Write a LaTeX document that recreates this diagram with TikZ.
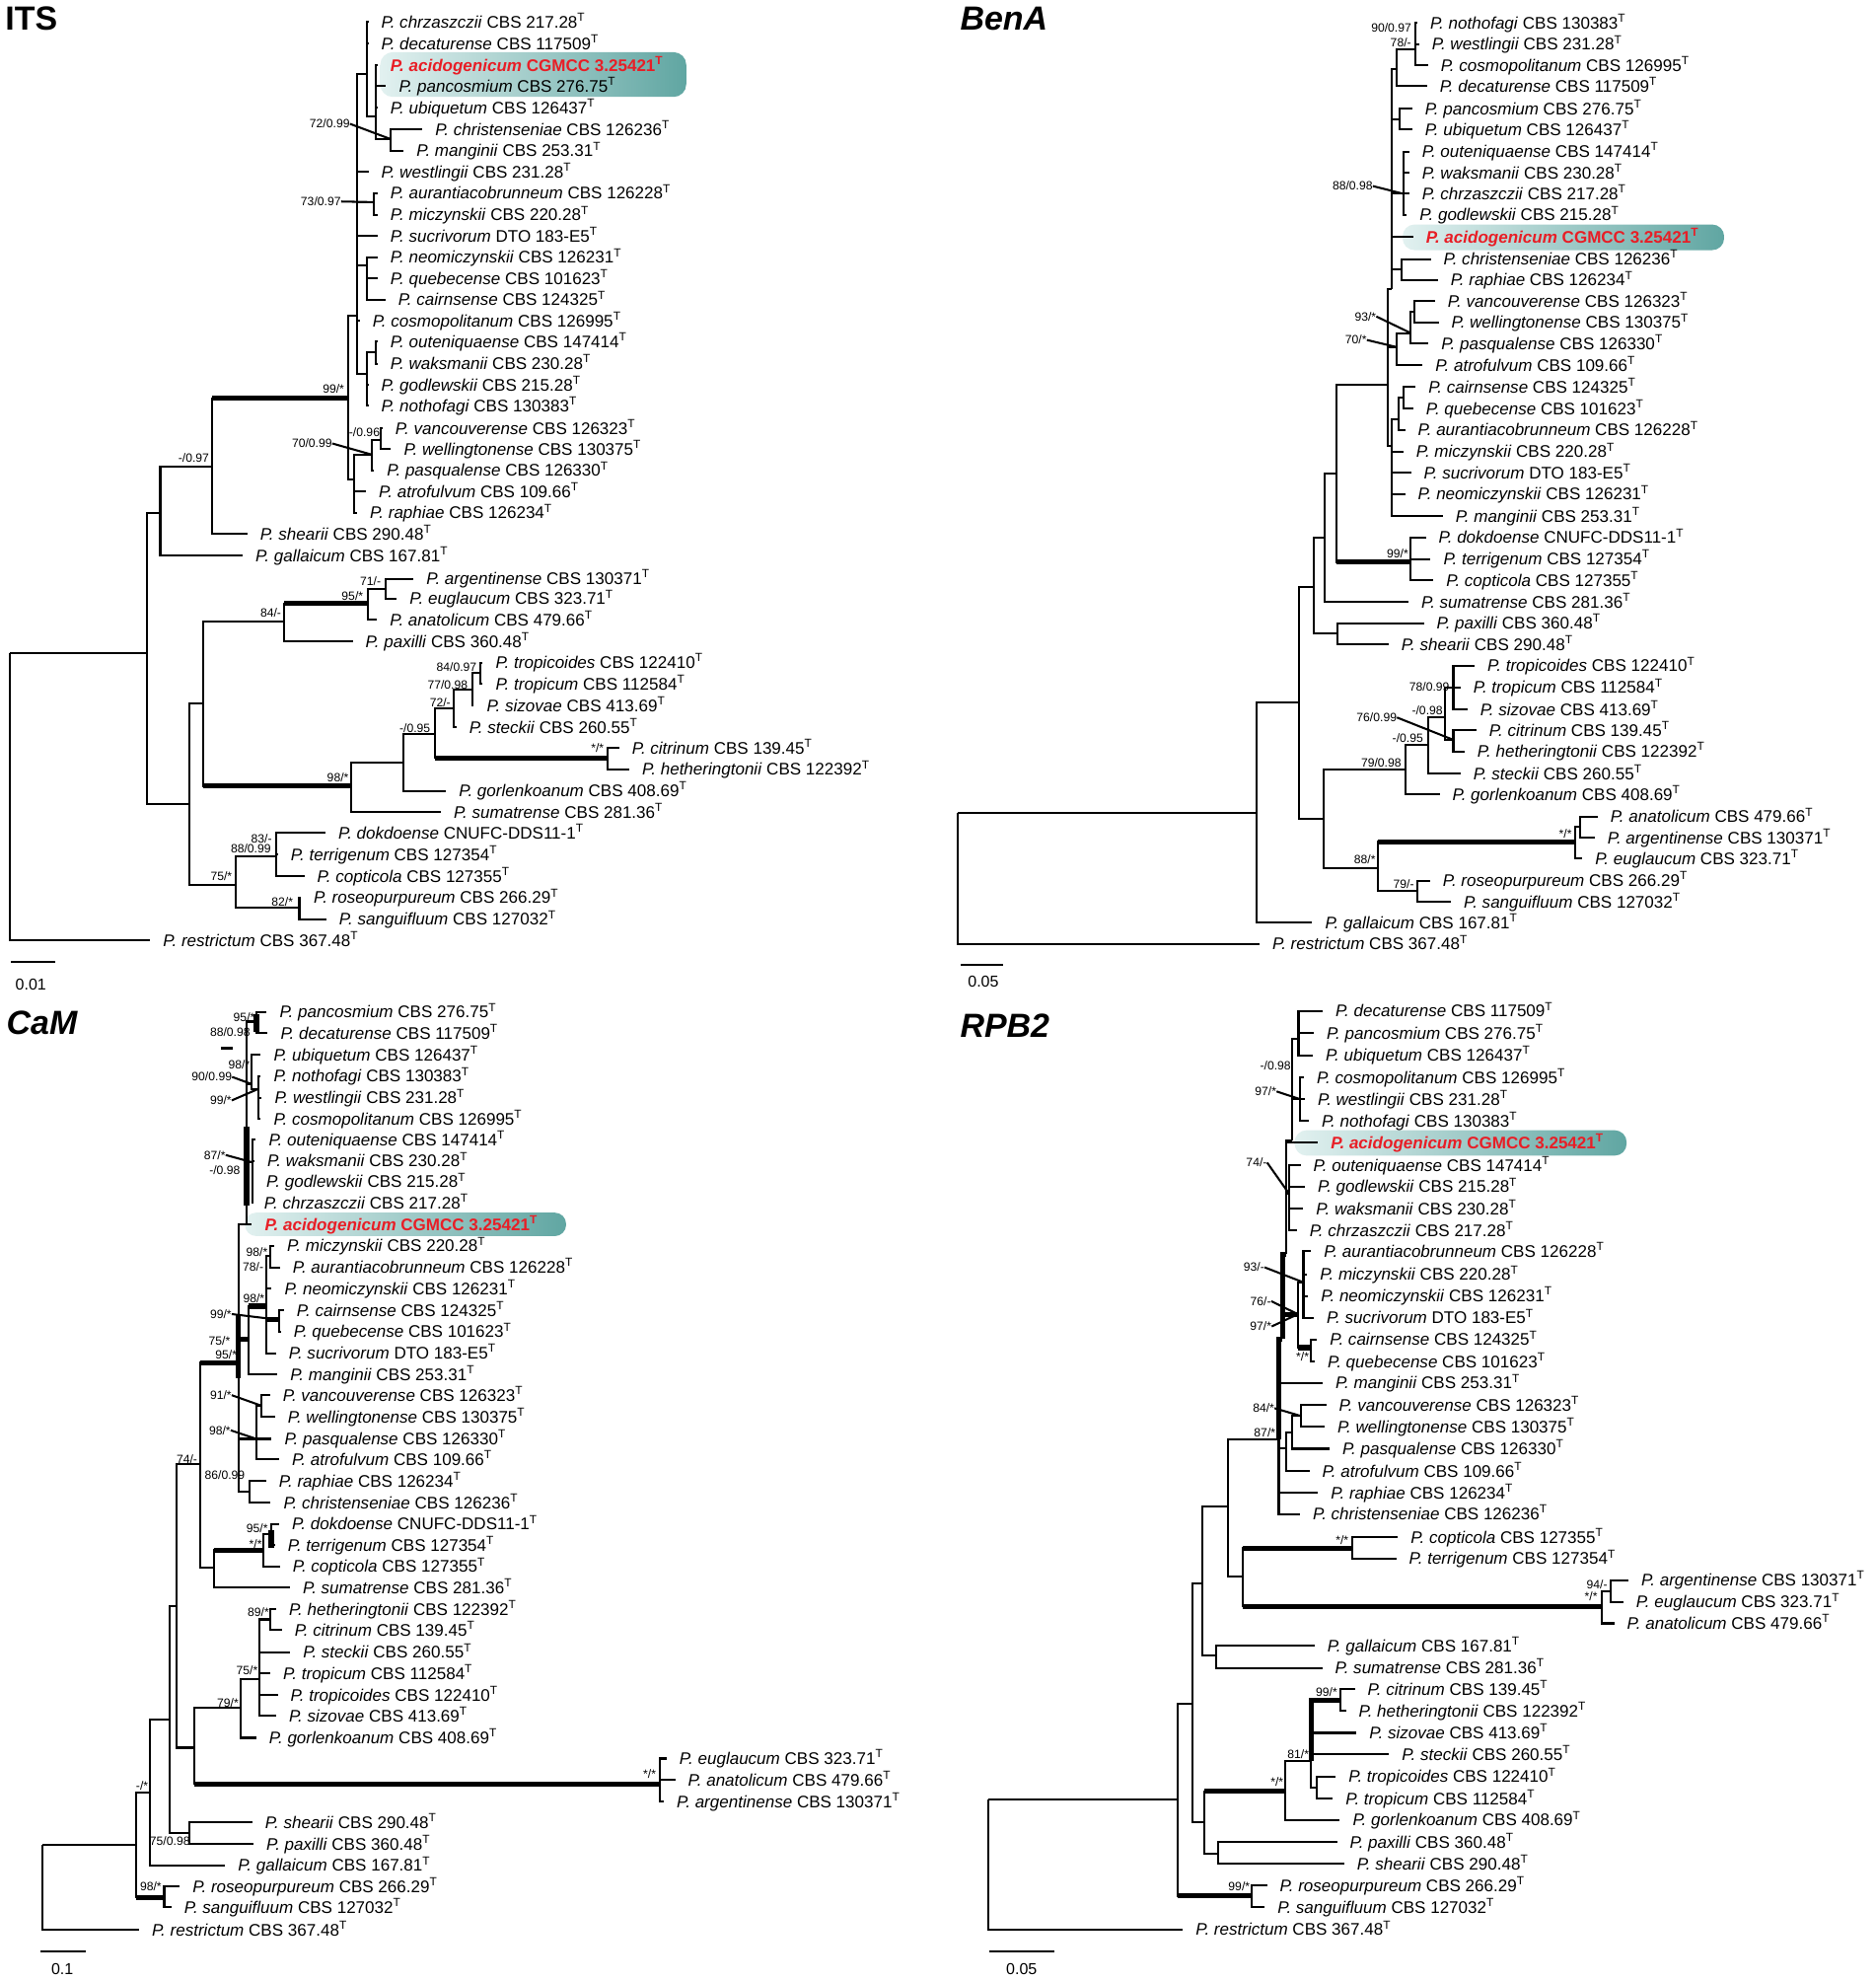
\documentclass[tikz,border=0pt]{standalone}
\usepackage{fontspec}
\setmainfont{Liberation Sans}
\usepackage{tikz}

\definecolor{newred}{RGB}{232,30,38}
\definecolor{hlleft}{RGB}{226,241,240}
\definecolor{hlright}{RGB}{96,166,162}
\newcommand{\typ}{\textsuperscript{T}}

\begin{document}
\begin{tikzpicture}[x=1pt, y=-1pt,
    taxon/.style={anchor=west, inner sep=0, text height=9.5pt, text depth=0pt, font=\fontsize{13.3}{14}\selectfont},
    new_taxon/.style={taxon, text=newred, font=\fontsize{13.3}{14}\selectfont\bfseries},
    support/.style={inner sep=0, font=\fontsize{9.5}{10}\selectfont},
    branch/.style={line width=1.6pt},
    heavy/.style={line width=4pt},
    to_inner/.style={to path={(\tikztostart) |- (\tikztotarget)}},
    to_tip/.style={to path={(\tikztostart) |- ([xshift=-10pt]\tikztotarget.west)}},
    tree_title/.style={anchor=west, inner sep=0, font=\fontsize{26.5}{28}\selectfont\bfseries\itshape},
    scale_lab/.style={inner sep=0, font=\fontsize{12.5}{13}\selectfont}]
    \fill[white] (0,0) rectangle (1485,1568);
    \useasboundingbox (0,0) rectangle (1485,1568);

    % highlight boxes for the new species
    \shade[left color=hlleft, right color=hlright, rounded corners=10] (301,41.3) rectangle (543.3,76.7);
    \shade[left color=hlleft, right color=hlright, rounded corners=9.5] (1110.4,177.7) rectangle (1365,198);
    \shade[left color=hlleft, right color=hlright, rounded corners=9] (193.9,959.8) rectangle (448.2,978.4);
    \shade[left color=hlleft, right color=hlright, rounded corners=9.5] (1024.9,894.6) rectangle (1287.8,914.7);

    % ITS
    \node[tree_title, font=\fontsize{26.5}{28}\selectfont\bfseries] (i_title) at (4,15) {ITS};
    \node[taxon] (i_chrz) at (301.7,17.5) {\textit{P. chrzaszczii} CBS 217.28\typ};
    \node[taxon] (i_deca) at (301.7,34.5) {\textit{P. decaturense} CBS 117509\typ};
    \node[new_taxon] (i_acid) at (309,51.6) {\textit{P. acidogenicum} CGMCC 3.25421\typ};
    \node[taxon] (i_panc) at (315.7,68.3) {\textit{P. pancosmium} CBS 276.75\typ};
    \node[taxon] (i_ubiq) at (309,85.1) {\textit{P. ubiquetum} CBS 126437\typ};
    \node[taxon] (i_chri) at (344.4,102.6) {\textit{P. christenseniae} CBS 126236\typ};
    \node[taxon] (i_mang) at (329.6,119.4) {\textit{P. manginii} CBS 253.31\typ};
    \node[taxon] (i_west) at (301.7,136.1) {\textit{P. westlingii} CBS 231.28\typ};
    \node[taxon] (i_aura) at (309,152.8) {\textit{P. aurantiacobrunneum} CBS 126228\typ};
    \node[taxon] (i_micz) at (309,170.1) {\textit{P. miczynskii} CBS 220.28\typ};
    \node[taxon] (i_sucr) at (309,186.9) {\textit{P. sucrivorum} DTO 183-E5\typ};
    \node[taxon] (i_neom) at (309,203.6) {\textit{P. neomiczynskii} CBS 126231\typ};
    \node[taxon] (i_queb) at (309,220.3) {\textit{P. quebecense} CBS 101623\typ};
    \node[taxon] (i_cair) at (315.1,237.1) {\textit{P. cairnsense} CBS 124325\typ};
    \node[taxon] (i_cosm) at (294.8,253.8) {\textit{P. cosmopolitanum} CBS 126995\typ};
    \node[taxon] (i_oute) at (309,270.5) {\textit{P. outeniquaense} CBS 147414\typ};
    \node[taxon] (i_waks) at (309,287.8) {\textit{P. waksmanii} CBS 230.28\typ};
    \node[taxon] (i_godl) at (301.7,304.6) {\textit{P. godlewskii} CBS 215.28\typ};
    \node[taxon] (i_noth) at (301.7,321.3) {\textit{P. nothofagi} CBS 130383\typ};
    \node[taxon] (i_vanc) at (312.9,338.9) {\textit{P. vancouverense} CBS 126323\typ};
    \node[taxon] (i_well) at (319.6,355.6) {\textit{P. wellingtonense} CBS 130375\typ};
    \node[taxon] (i_pasq) at (306.2,372.3) {\textit{P. pasqualense} CBS 126330\typ};
    \node[taxon] (i_atro) at (299.8,389.1) {\textit{P. atrofulvum} CBS 109.66\typ};
    \node[taxon] (i_raph) at (292.8,405.8) {\textit{P. raphiae} CBS 126234\typ};
    \node[taxon] (i_shea) at (205.8,422.5) {\textit{P. shearii} CBS 290.48\typ};
    \node[taxon] (i_gall) at (202.2,439.8) {\textit{P. gallaicum} CBS 167.81\typ};
    \node[taxon] (i_arge) at (337.4,458) {\textit{P. argentinense} CBS 130371\typ};
    \node[taxon] (i_eugl) at (324.2,473.7) {\textit{P. euglaucum} CBS 323.71\typ};
    \node[taxon] (i_anat) at (308.5,490.6) {\textit{P. anatolicum} CBS 479.66\typ};
    \node[taxon] (i_paxi) at (289.3,507.5) {\textit{P. paxilli} CBS 360.48\typ};
    \node[taxon] (i_tpcd) at (392.2,524.4) {\textit{P. tropicoides} CBS 122410\typ};
    \node[taxon] (i_trop) at (392.2,541.3) {\textit{P. tropicum} CBS 112584\typ};
    \node[taxon] (i_sizo) at (385.2,558.3) {\textit{P. sizovae} CBS 413.69\typ};
    \node[taxon] (i_stec) at (371.3,575.7) {\textit{P. steckii} CBS 260.55\typ};
    \node[taxon] (i_citr) at (500.2,592.1) {\textit{P. citrinum} CBS 139.45\typ};
    \node[taxon] (i_heth) at (508.3,609) {\textit{P. hetheringtonii} CBS 122392\typ};
    \node[taxon] (i_gorl) at (363.2,625.9) {\textit{P. gorlenkoanum} CBS 408.69\typ};
    \node[taxon] (i_suma) at (359,642.9) {\textit{P. sumatrense} CBS 281.36\typ};
    \node[taxon] (i_dokd) at (267.7,659) {\textit{P. dokdoense} CNUFC-DDS11-1\typ};
    \node[taxon] (i_terr) at (230.1,676.2) {\textit{P. terrigenum} CBS 127354\typ};
    \node[taxon] (i_copt) at (251,693.6) {\textit{P. copticola} CBS 127355\typ};
    \node[taxon] (i_rose) at (248.2,710.5) {\textit{P. roseopurpureum} CBS 266.29\typ};
    \node[taxon] (i_sang) at (268.4,727.5) {\textit{P. sanguifluum} CBS 127032\typ};
    \node[taxon] (i_rest) at (129,744.4) {\textit{P. restrictum} CBS 367.48\typ};

    \coordinate (i_root) at (7.7,516.6);
    \coordinate (i_a) at (116.1,516.6);
    \coordinate (i_b) at (126.9,405.8);
    \coordinate (i_c) at (149.9,636.4);
    \coordinate (i_d) at (168.1,369.5);
    \coordinate (i_e) at (275.5,315.2);
    \coordinate (i_f) at (283,249.6);
    \coordinate (i_g) at (280.3,379.3);
    \coordinate (i_h) at (290.6,58.6);
    \coordinate (i_i) at (297.8,92);
    \coordinate (i_j) at (309.5,110.2);
    \coordinate (i_k) at (295.6,160);
    \coordinate (i_m) at (290.6,210);
    \coordinate (i_p) at (290.6,295.6);
    \coordinate (i_q) at (297.8,279);
    \coordinate (i_r) at (294.2,359.8);
    \coordinate (i_s) at (301.2,348);
    \coordinate (i_t) at (161,557);
    \coordinate (i_u) at (186.5,700.1);
    \coordinate (i_v) at (224.8,491.9);
    \coordinate (i_w) at (277.8,622);
    \coordinate (i_x) at (291.1,477.6);
    \coordinate (i_y) at (305,465.9);
    \coordinate (i_z) at (319.7,603.8);
    \coordinate (i_aa) at (344.4,580.9);
    \coordinate (i_ab) at (359.1,560.9);
    \coordinate (i_ac) at (373.7,546);
    \coordinate (i_ad) at (380,532.2);
    \coordinate (i_ae) at (481.1,599.9);
    \coordinate (i_af) at (218.9,678);
    \coordinate (i_ag) at (237,718.3);

    \draw[branch] (i_root) edge[to_inner] (i_a) edge[to_tip] (i_rest);
    \draw[branch] (i_a) edge[to_inner] (i_b) edge[to_inner] (i_c);
    \draw[branch] (i_b) edge[to_inner] (i_d) edge[to_tip] (i_gall);
    \draw[branch] (i_d) edge[to_inner] (i_e) edge[to_tip] (i_shea);
    \draw[branch] (i_e) edge[to_inner] (i_f) edge[to_inner] (i_g);
    \draw[branch] (i_f) edge[to_inner] (i_h) edge[to_tip] (i_west) edge[to_inner] (i_k) edge[to_tip] (i_sucr)
        edge[to_inner] (i_m) edge[to_tip] (i_cosm) edge[to_inner] (i_p);
    \draw[branch] (i_h) edge[to_tip] (i_chrz) edge[to_tip] (i_deca) edge[to_inner] (i_i);
    \draw[branch] (i_i) edge[to_tip] (i_acid) edge[to_tip] (i_panc) edge[to_tip] (i_ubiq) edge[to_inner] (i_j);
    \draw[branch] (i_j) edge[to_tip] (i_chri) edge[to_tip] (i_mang);
    \draw[branch] (i_k) edge[to_tip] (i_aura) edge[to_tip] (i_micz);
    \draw[branch] (i_m) edge[to_tip] (i_neom) edge[to_tip] (i_queb) edge[to_tip] (i_cair);
    \draw[branch] (i_p) edge[to_inner] (i_q) edge[to_tip] (i_godl) edge[to_tip] (i_noth);
    \draw[branch] (i_q) edge[to_tip] (i_oute) edge[to_tip] (i_waks);
    \draw[branch] (i_g) edge[to_inner] (i_r) edge[to_tip] (i_atro) edge[to_tip] (i_raph);
    \draw[branch] (i_r) edge[to_inner] (i_s) edge[to_tip] (i_pasq);
    \draw[branch] (i_s) edge[to_tip] (i_vanc) edge[to_tip] (i_well);
    \draw[branch] (i_c) edge[to_inner] (i_t) edge[to_inner] (i_u);
    \draw[branch] (i_t) edge[to_inner] (i_v) edge[to_inner] (i_w);
    \draw[branch] (i_v) edge[to_inner] (i_x) edge[to_tip] (i_paxi);
    \draw[branch] (i_x) edge[to_inner] (i_y) edge[to_tip] (i_anat);
    \draw[branch] (i_y) edge[to_tip] (i_arge) edge[to_tip] (i_eugl);
    \draw[branch] (i_w) edge[to_inner] (i_z) edge[to_tip] (i_suma);
    \draw[branch] (i_z) edge[to_inner] (i_aa) edge[to_tip] (i_gorl);
    \draw[branch] (i_aa) edge[to_inner] (i_ab) edge[to_inner] (i_ae);
    \draw[branch] (i_ab) edge[to_inner] (i_ac) edge[to_tip] (i_stec);
    \draw[branch] (i_ac) edge[to_inner] (i_ad) edge[to_tip] (i_sizo);
    \draw[branch] (i_ad) edge[to_tip] (i_tpcd) edge[to_tip] (i_trop);
    \draw[branch] (i_ae) edge[to_tip] (i_citr) edge[to_tip] (i_heth);
    \draw[branch] (i_u) edge[to_inner] (i_af) edge[to_inner] (i_ag);
    \draw[branch] (i_af) edge[to_tip] (i_dokd) edge[to_tip] (i_terr) edge[to_tip] (i_copt);
    \draw[branch] (i_ag) edge[to_tip] (i_rose) edge[to_tip] (i_sang);
    \draw[heavy] (i_d |- i_e) -- (i_e);
    \draw[heavy] (i_v |- i_x) -- (i_x);
    \draw[heavy] (i_t |- i_w) -- (i_w);
    \draw[heavy] (i_aa |- i_ae) -- (i_ae);

    \node[support] (i_l1) at (261,98) {72/0.99};
    \node[support] (i_l2) at (254,159.5) {73/0.97};
    \node[support] (i_l3) at (264,308) {99/*};
    \node[support] (i_l4) at (288.5,342.5) {-/0.96};
    \node[support] (i_l5) at (247,351) {70/0.99};
    \node[support] (i_l6) at (153.4,362.6) {-/0.97};
    \node[support] (i_l7) at (293.3,460.1) {71/-};
    \node[support] (i_l8) at (279,471.5) {95/*};
    \node[support] (i_l9) at (214.4,485.4) {84/-};
    \node[support] (i_l10) at (361.5,528.3) {84/0.97};
    \node[support] (i_l11) at (354.4,541.9) {77/0.98};
    \node[support] (i_l12) at (348.5,556.2) {72/-};
    \node[support] (i_l13) at (328.5,576.5) {-/0.95};
    \node[support] (i_l14) at (473,592.1) {*/*};
    \node[support] (i_l15) at (267.5,615.5) {98/*};
    \node[support] (i_l16) at (207,664.2) {83/-};
    \node[support] (i_l17) at (198.6,672) {88/0.99};
    \node[support] (i_l18) at (175.2,693.6) {75/*};
    \node[support] (i_l19) at (223.5,713.7) {82/*};
    \draw[branch] (i_l1.east) -- (i_j);
    \draw[branch] (i_l2.east) -- (i_k);
    \draw[branch] (i_l5.east) -- (i_r);

    \draw[branch] (8.7,761.3) -- (43.6,761.3);
    \node[scale_lab] (i_scale) at (24.4,779.5) {0.01};

    % BenA
    \node[tree_title] (b_title) at (760,15) {BenA};
    \node[taxon] (b_noth) at (1132.1,18.1) {\textit{P. nothofagi} CBS 130383\typ};
    \node[taxon] (b_west) at (1133.5,34.9) {\textit{P. westlingii} CBS 231.28\typ};
    \node[taxon] (b_cosm) at (1140.5,51.6) {\textit{P. cosmopolitanum} CBS 126995\typ};
    \node[taxon] (b_deca) at (1139.7,68.3) {\textit{P. decaturense} CBS 117509\typ};
    \node[taxon] (b_panc) at (1128,85.9) {\textit{P. pancosmium} CBS 276.75\typ};
    \node[taxon] (b_ubiq) at (1128,102.6) {\textit{P. ubiquetum} CBS 126437\typ};
    \node[taxon] (b_oute) at (1125.7,119.9) {\textit{P. outeniquaense} CBS 147414\typ};
    \node[taxon] (b_waks) at (1125.7,136.7) {\textit{P. waksmanii} CBS 230.28\typ};
    \node[taxon] (b_chrz) at (1125.7,153.4) {\textit{P. chrzaszczii} CBS 217.28\typ};
    \node[taxon] (b_godl) at (1123.8,170.1) {\textit{P. godlewskii} CBS 215.28\typ};
    \node[new_taxon] (b_acid) at (1128.8,187.4) {\textit{P. acidogenicum} CGMCC 3.25421\typ};
    \node[taxon] (b_chri) at (1142.7,205) {\textit{P. christenseniae} CBS 126236\typ};
    \node[taxon] (b_raph) at (1148.3,221.7) {\textit{P. raphiae} CBS 126234\typ};
    \node[taxon] (b_vanc) at (1146.1,238.5) {\textit{P. vancouverense} CBS 126323\typ};
    \node[taxon] (b_well) at (1148.9,255.2) {\textit{P. wellingtonense} CBS 130375\typ};
    \node[taxon] (b_pasq) at (1141,271.9) {\textit{P. pasqualense} CBS 126330\typ};
    \node[taxon] (b_atro) at (1136.3,289.2) {\textit{P. atrofulvum} CBS 109.66\typ};
    \node[taxon] (b_cair) at (1130.7,306.2) {\textit{P. cairnsense} CBS 124325\typ};
    \node[taxon] (b_queb) at (1128.8,323.5) {\textit{P. quebecense} CBS 101623\typ};
    \node[taxon] (b_aura) at (1122.4,340.3) {\textit{P. aurantiacobrunneum} CBS 126228\typ};
    \node[taxon] (b_micz) at (1121,357.5) {\textit{P. miczynskii} CBS 220.28\typ};
    \node[taxon] (b_sucr) at (1127.1,374.3) {\textit{P. sucrivorum} DTO 183-E5\typ};
    \node[taxon] (b_neom) at (1122.4,391) {\textit{P. neomiczynskii} CBS 126231\typ};
    \node[taxon] (b_mang) at (1152.2,408.6) {\textit{P. manginii} CBS 253.31\typ};
    \node[taxon] (b_dokd) at (1138.8,425.4) {\textit{P. dokdoense} CNUFC-DDS11-1\typ};
    \node[taxon] (b_terr) at (1142.6,442.4) {\textit{P. terrigenum} CBS 127354\typ};
    \node[taxon] (b_copt) at (1144.8,459.4) {\textit{P. copticola} CBS 127355\typ};
    \node[taxon] (b_suma) at (1125.1,476.3) {\textit{P. sumatrense} CBS 281.36\typ};
    \node[taxon] (b_paxi) at (1137.2,493.2) {\textit{P. paxilli} CBS 360.48\typ};
    \node[taxon] (b_shea) at (1109.4,510.1) {\textit{P. shearii} CBS 290.48\typ};
    \node[taxon] (b_tpcd) at (1177.5,527) {\textit{P. tropicoides} CBS 122410\typ};
    \node[taxon] (b_trop) at (1166.3,544) {\textit{P. tropicum} CBS 112584\typ};
    \node[taxon] (b_sizo) at (1171.7,561.4) {\textit{P. sizovae} CBS 413.69\typ};
    \node[taxon] (b_citr) at (1178.9,577.8) {\textit{P. citrinum} CBS 139.45\typ};
    \node[taxon] (b_heth) at (1169.5,594.7) {\textit{P. hetheringtonii} CBS 122392\typ};
    \node[taxon] (b_stec) at (1166.3,612.2) {\textit{P. steckii} CBS 260.55\typ};
    \node[taxon] (b_gorl) at (1149.7,628.6) {\textit{P. gorlenkoanum} CBS 408.69\typ};
    \node[taxon] (b_anat) at (1274.8,646.3) {\textit{P. anatolicum} CBS 479.66\typ};
    \node[taxon] (b_arge) at (1272.5,663.2) {\textit{P. argentinense} CBS 130371\typ};
    \node[taxon] (b_eugl) at (1262.7,679.3) {\textit{P. euglaucum} CBS 323.71\typ};
    \node[taxon] (b_rose) at (1142.1,697) {\textit{P. roseopurpureum} CBS 266.29\typ};
    \node[taxon] (b_sang) at (1158.7,713.7) {\textit{P. sanguifluum} CBS 127032\typ};
    \node[taxon] (b_gall) at (1048.9,730.1) {\textit{P. gallaicum} CBS 167.81\typ};
    \node[taxon] (b_rest) at (1007.2,747) {\textit{P. restrictum} CBS 367.48\typ};

    \coordinate (b_root) at (758.5,643.4);
    \coordinate (b_a) at (995.1,643.4);
    \coordinate (b_b) at (1028.3,555.7);
    \coordinate (b_c) at (1039.9,464.6);
    \coordinate (b_d) at (1047.6,648.1);
    \coordinate (b_e) at (1048.5,425.3);
    \coordinate (b_f) at (1058.8,501);
    \coordinate (b_g) at (1058.2,375.1);
    \coordinate (b_h) at (1098.7,304.6);
    \coordinate (b_i) at (1117,445);
    \coordinate (b_j) at (1102,228.7);
    \coordinate (b_k) at (1105.6,274.7);
    \coordinate (b_l) at (1102,352.7);
    \coordinate (b_m) at (1105.6,55);
    \coordinate (b_n) at (1108.4,94.3);
    \coordinate (b_o) at (1111.2,153.4);
    \coordinate (b_p) at (1109.3,213.4);
    \coordinate (b_q) at (1120.4,39);
    \coordinate (b_r) at (1116.8,263.6);
    \coordinate (b_s) at (1119.6,246.9);
    \coordinate (b_t) at (1111.2,315);
    \coordinate (b_v) at (1107,331.9);
    \coordinate (b_w) at (1112.5,609);
    \coordinate (b_x) at (1091,687.1);
    \coordinate (b_y) at (1130.5,589.5);
    \coordinate (b_z) at (1143.9,567.4);
    \coordinate (b_aa) at (1150.6,544);
    \coordinate (b_ab) at (1150.6,585.6);
    \coordinate (b_ac) at (1247,666.3);
    \coordinate (b_ad) at (1122.4,705.3);
    \coordinate (b_ae) at (1250.6,654);

    \draw[branch] (b_root) edge[to_inner] (b_a) edge[to_tip] (b_rest);
    \draw[branch] (b_a) edge[to_inner] (b_b) edge[to_tip] (b_gall);
    \draw[branch] (b_b) edge[to_inner] (b_c) edge[to_inner] (b_d);
    \draw[branch] (b_c) edge[to_inner] (b_e) edge[to_inner] (b_f);
    \draw[branch] (b_e) edge[to_inner] (b_g) edge[to_tip] (b_suma);
    \draw[branch] (b_g) edge[to_inner] (b_h) edge[to_inner] (b_i);
    \draw[branch] (b_i) edge[to_tip] (b_dokd) edge[to_tip] (b_terr) edge[to_tip] (b_copt);
    \draw[branch] (b_f) edge[to_tip] (b_paxi) edge[to_tip] (b_shea);
    \draw[branch] (b_h) edge[to_inner] (b_j) edge[to_inner] (b_k) edge[to_inner] (b_l);
    \draw[branch] (b_j) edge[to_inner] (b_m) edge[to_inner] (b_n) edge[to_inner] (b_o) edge[to_tip] (b_acid) edge[to_inner] (b_p);
    \draw[branch] (b_m) edge[to_inner] (b_q) edge[to_tip] (b_deca);
    \draw[branch] (b_q) edge[to_tip] (b_noth) edge[to_tip] (b_west) edge[to_tip] (b_cosm);
    \draw[branch] (b_n) edge[to_tip] (b_panc) edge[to_tip] (b_ubiq);
    \draw[branch] (b_o) edge[to_tip] (b_oute) edge[to_tip] (b_waks) edge[to_tip] (b_chrz) edge[to_tip] (b_godl);
    \draw[branch] (b_p) edge[to_tip] (b_chri) edge[to_tip] (b_raph);
    \draw[branch] (b_k) edge[to_inner] (b_r) edge[to_tip] (b_atro);
    \draw[branch] (b_r) edge[to_inner] (b_s) edge[to_tip] (b_pasq);
    \draw[branch] (b_s) edge[to_tip] (b_vanc) edge[to_tip] (b_well);
    \draw[branch] (b_l) edge[to_inner] (b_v) edge[to_tip] (b_micz) edge[to_tip] (b_sucr) edge[to_tip] (b_neom) edge[to_tip] (b_mang);
    \draw[branch] (b_v) edge[to_inner] (b_t) edge[to_tip] (b_aura);
    \draw[branch] (b_t) edge[to_tip] (b_cair) edge[to_tip] (b_queb);
    \draw[branch] (b_d) edge[to_inner] (b_w) edge[to_inner] (b_x);
    \draw[branch] (b_w) edge[to_inner] (b_y) edge[to_tip] (b_gorl);
    \draw[branch] (b_y) edge[to_inner] (b_z) edge[to_tip] (b_stec);
    \draw[branch] (b_z) edge[to_inner] (b_aa) edge[to_inner] (b_ab);
    \draw[branch] (b_aa) edge[to_tip] (b_tpcd) edge[to_tip] (b_trop) edge[to_tip] (b_sizo);
    \draw[branch] (b_ab) edge[to_tip] (b_citr) edge[to_tip] (b_heth);
    \draw[branch] (b_x) edge[to_inner] (b_ac) edge[to_inner] (b_ad);
    \draw[branch] (b_ac) edge[to_inner] (b_ae) edge[to_tip] (b_eugl);
    \draw[branch] (b_ae) edge[to_tip] (b_anat) edge[to_tip] (b_arge);
    \draw[branch] (b_ad) edge[to_tip] (b_rose) edge[to_tip] (b_sang);
    \draw[heavy] (b_g |- b_i) -- (b_i);
    \draw[heavy] (b_x |- b_ac) -- (b_ac);

    \node[support] (b_l1) at (1101.5,22.3) {90/0.97};
    \node[support] (b_l2) at (1109,34) {78/-};
    \node[support] (b_l3) at (1070.8,147.3) {88/0.98};
    \node[support] (b_l4) at (1081,250.5) {93/*};
    \node[support] (b_l5) at (1073.5,269.1) {70/*};
    \node[support] (b_l6) at (1106.5,438.5) {99/*};
    \node[support] (b_l7) at (1093.5,603.8) {79/0.98};
    \node[support] (b_l8) at (1114.5,584.3) {-/0.95};
    \node[support] (b_l9) at (1130,562.2) {-/0.98};
    \node[support] (b_l10) at (1131.6,543.4) {78/0.99};
    \node[support] (b_l11) at (1089.9,567.9) {76/0.99};
    \node[support] (b_l12) at (1080.5,680.6) {88/*};
    \node[support] (b_l13) at (1239.3,659.8) {*/*};
    \node[support] (b_l14) at (1111.3,700.1) {79/-};
    \draw[branch] (b_l3.east) -- (b_o);
    \draw[branch] (b_l4.east) -- (b_r);
    \draw[branch] (b_l5.east) -- (b_k);
    \draw[branch] (b_l11.east) -- (b_ab);

    \draw[branch] (760.7,763.9) -- (794.3,763.9);
    \node[scale_lab] (b_scale) at (778.5,777) {0.05};

    % CaM
    \node[tree_title] (c_title) at (5,810) {CaM};
    \node[taxon] (c_panc) at (221.2,800.9) {\textit{P. pancosmium} CBS 276.75\typ};
    \node[taxon] (c_deca) at (222,817.8) {\textit{P. decaturense} CBS 117509\typ};
    \node[taxon] (c_ubiq) at (216.5,834.8) {\textit{P. ubiquetum} CBS 126437\typ};
    \node[taxon] (c_noth) at (216.5,851.8) {\textit{P. nothofagi} CBS 130383\typ};
    \node[taxon] (c_west) at (217.3,868.8) {\textit{P. westlingii} CBS 231.28\typ};
    \node[taxon] (c_cosm) at (216.5,885.8) {\textit{P. cosmopolitanum} CBS 126995\typ};
    \node[taxon] (c_oute) at (212.6,902.1) {\textit{P. outeniquaense} CBS 147414\typ};
    \node[taxon] (c_waks) at (211.6,918.8) {\textit{P. waksmanii} CBS 230.28\typ};
    \node[taxon] (c_godl) at (210.8,935.2) {\textit{P. godlewskii} CBS 215.28\typ};
    \node[taxon] (c_chrz) at (209,952.1) {\textit{P. chrzaszczii} CBS 217.28\typ};
    \node[new_taxon] (c_acid) at (209.5,969.1) {\textit{P. acidogenicum} CGMCC 3.25421\typ};
    \node[taxon] (c_micz) at (227.2,986.1) {\textit{P. miczynskii} CBS 220.28\typ};
    \node[taxon] (c_aura) at (231.6,1003.1) {\textit{P. aurantiacobrunneum} CBS 126228\typ};
    \node[taxon] (c_neom) at (225.1,1020) {\textit{P. neomiczynskii} CBS 126231\typ};
    \node[taxon] (c_cair) at (234.8,1037) {\textit{P. cairnsense} CBS 124325\typ};
    \node[taxon] (c_queb) at (232.4,1054) {\textit{P. quebecense} CBS 101623\typ};
    \node[taxon] (c_sucr) at (228.5,1071) {\textit{P. sucrivorum} DTO 183-E5\typ};
    \node[taxon] (c_mang) at (229.6,1088) {\textit{P. manginii} CBS 253.31\typ};
    \node[taxon] (c_vanc) at (223.8,1104.3) {\textit{P. vancouverense} CBS 126323\typ};
    \node[taxon] (c_well) at (227.7,1121.3) {\textit{P. wellingtonense} CBS 130375\typ};
    \node[taxon] (c_pasq) at (225.1,1138.9) {\textit{P. pasqualense} CBS 126330\typ};
    \node[taxon] (c_atro) at (231.1,1155.2) {\textit{P. atrofulvum} CBS 109.66\typ};
    \node[taxon] (c_raph) at (220.7,1172.2) {\textit{P. raphiae} CBS 126234\typ};
    \node[taxon] (c_chri) at (224.3,1189.2) {\textit{P. christenseniae} CBS 126236\typ};
    \node[taxon] (c_dokd) at (231.1,1206.2) {\textit{P. dokdoense} CNUFC-DDS11-1\typ};
    \node[taxon] (c_terr) at (227.7,1222.9) {\textit{P. terrigenum} CBS 127354\typ};
    \node[taxon] (c_copt) at (231.6,1239.8) {\textit{P. copticola} CBS 127355\typ};
    \node[taxon] (c_suma) at (239.6,1256.6) {\textit{P. sumatrense} CBS 281.36\typ};
    \node[taxon] (c_heth) at (228.6,1273.9) {\textit{P. hetheringtonii} CBS 122392\typ};
    \node[taxon] (c_citr) at (233.1,1290.3) {\textit{P. citrinum} CBS 139.45\typ};
    \node[taxon] (c_stec) at (239.8,1307.8) {\textit{P. steckii} CBS 260.55\typ};
    \node[taxon] (c_trop) at (224.1,1324.7) {\textit{P. tropicum} CBS 112584\typ};
    \node[taxon] (c_tpcd) at (229.9,1341.6) {\textit{P. tropicoides} CBS 122410\typ};
    \node[taxon] (c_sizo) at (228.6,1358) {\textit{P. sizovae} CBS 413.69\typ};
    \node[taxon] (c_gorl) at (212.9,1375.5) {\textit{P. gorlenkoanum} CBS 408.69\typ};
    \node[taxon] (c_eugl) at (537.8,1391.9) {\textit{P. euglaucum} CBS 323.71\typ};
    \node[taxon] (c_anat) at (544.6,1408.8) {\textit{P. anatolicum} CBS 479.66\typ};
    \node[taxon] (c_arge) at (535.6,1426.2) {\textit{P. argentinense} CBS 130371\typ};
    \node[taxon] (c_shea) at (209.8,1442.6) {\textit{P. shearii} CBS 290.48\typ};
    \node[taxon] (c_paxi) at (210.7,1459.5) {\textit{P. paxilli} CBS 360.48\typ};
    \node[taxon] (c_gall) at (188.2,1476.5) {\textit{P. gallaicum} CBS 167.81\typ};
    \node[taxon] (c_rose) at (152.4,1493.1) {\textit{P. roseopurpureum} CBS 266.29\typ};
    \node[taxon] (c_sang) at (145.7,1509.5) {\textit{P. sanguifluum} CBS 127032\typ};
    \node[taxon] (c_rest) at (120.1,1527.7) {\textit{P. restrictum} CBS 367.48\typ};

    \coordinate (c_root) at (33.6,1460.1);
    \coordinate (c_a) at (107.6,1460.1);
    \coordinate (c_b) at (118.8,1418.9);
    \coordinate (c_c) at (130,1501.7);
    \coordinate (c_d) at (134.5,1361.2);
    \coordinate (c_e) at (139.8,1271.3);
    \coordinate (c_f) at (150.1,1451);
    \coordinate (c_g) at (158.7,1159);
    \coordinate (c_h) at (153.7,1383.3);
    \coordinate (c_i) at (190.5,1352);
    \coordinate (c_j) at (522.1,1411.9);
    \coordinate (c_k) at (205.3,1329.4);
    \coordinate (c_l) at (214.2,1281.8);
    \coordinate (c_m) at (188.7,1078.7);
    \coordinate (c_n) at (169.2,1240.8);
    \coordinate (c_o) at (208.7,1226.9);
    \coordinate (c_p) at (214.7,1214.5);
    \coordinate (c_q) at (195.2,969.1);
    \coordinate (c_r) at (196.5,1060.2);
    \coordinate (c_s) at (203,1138.9);
    \coordinate (c_t) at (197.8,1180.6);
    \coordinate (c_u) at (203,808.6);
    \coordinate (c_v) at (199.1,858);
    \coordinate (c_w) at (199.9,920);
    \coordinate (c_x) at (204.3,862);
    \coordinate (c_y) at (210.8,1033.9);
    \coordinate (c_z) at (213.9,993.8);
    \coordinate (c_aa) at (221.2,1044.7);
    \coordinate (c_ab) at (206.9,1112.6);

    \draw[branch] (c_root) edge[to_inner] (c_a) edge[to_tip] (c_rest);
    \draw[branch] (c_a) edge[to_inner] (c_b) edge[to_inner] (c_c);
    \draw[branch] (c_c) edge[to_tip] (c_rose) edge[to_tip] (c_sang);
    \draw[branch] (c_b) edge[to_inner] (c_d) edge[to_tip] (c_gall);
    \draw[branch] (c_d) edge[to_inner] (c_e) edge[to_inner] (c_f);
    \draw[branch] (c_f) edge[to_tip] (c_shea) edge[to_tip] (c_paxi);
    \draw[branch] (c_e) edge[to_inner] (c_g) edge[to_inner] (c_h);
    \draw[branch] (c_h) edge[to_inner] (c_i) edge[to_inner] (c_j);
    \draw[branch] (c_i) edge[to_inner] (c_k) edge[to_tip] (c_gorl);
    \draw[branch] (c_k) edge[to_inner] (c_l) edge[to_tip] (c_stec) edge[to_tip] (c_trop) edge[to_tip] (c_tpcd) edge[to_tip] (c_sizo);
    \draw[branch] (c_l) edge[to_tip] (c_heth) edge[to_tip] (c_citr);
    \draw[branch] (c_j) edge[to_tip] (c_eugl) edge[to_tip] (c_anat) edge[to_tip] (c_arge);
    \draw[branch] (c_g) edge[to_inner] (c_m) edge[to_inner] (c_n);
    \draw[branch] (c_n) edge[to_inner] (c_o) edge[to_tip] (c_suma);
    \draw[branch] (c_o) edge[to_inner] (c_p) edge[to_tip] (c_copt);
    \draw[branch] (c_p) edge[to_tip] (c_dokd) edge[to_tip] (c_terr);
    \draw[branch] (c_m) edge[to_inner] (c_q) edge[to_inner] (c_r) edge[to_inner] (c_s) edge[to_inner] (c_t);
    \draw[branch] (c_q) edge[to_inner] (c_u) edge[to_inner] (c_v) edge[to_inner] (c_w) edge[to_tip] (c_acid);
    \draw[branch] (c_u) edge[to_tip] (c_panc) edge[to_tip] (c_deca);
    \draw[branch] (c_v) edge[to_tip] (c_ubiq) edge[to_inner] (c_x);
    \draw[branch] (c_x) edge[to_tip] (c_noth) edge[to_tip] (c_west) edge[to_tip] (c_cosm);
    \draw[branch] (c_w) edge[to_tip] (c_oute) edge[to_tip] (c_waks) edge[to_tip] (c_godl) edge[to_tip] (c_chrz);
    \draw[branch] (c_r) edge[to_inner] (c_y) edge[to_tip] (c_mang);
    \draw[branch] (c_y) edge[to_inner] (c_z) edge[to_tip] (c_neom) edge[to_inner] (c_aa) edge[to_tip] (c_sucr);
    \draw[branch] (c_z) edge[to_tip] (c_micz) edge[to_tip] (c_aura);
    \draw[branch] (c_aa) edge[to_tip] (c_cair) edge[to_tip] (c_queb);
    \draw[branch] (c_s) edge[to_inner] (c_ab) edge[to_tip] (c_pasq) edge[to_tip] (c_atro);
    \draw[branch] (c_ab) edge[to_tip] (c_vanc) edge[to_tip] (c_well);
    \draw[branch] (c_t) edge[to_tip] (c_raph) edge[to_tip] (c_chri);
    \draw[heavy] (c_a |- c_c) -- (c_c);
    \draw[heavy] (c_h |- c_j) -- (c_j);
    \draw[heavy] (c_g |- c_m) -- (c_m);
    \draw[heavy] (c_n |- c_o) -- (c_o);
    \draw[heavy] (c_m |- c_r) -- (c_r);
    \draw[heavy] (c_r |- c_y) -- (c_y);
    \draw[heavy] (c_y |- c_aa) -- (c_aa);
    \draw[heavy] (c_q) ++(0,-77) -- ++(0,62);
    \draw[heavy] (c_m) ++(0,-38) -- ++(0,50);
    \draw[heavy] (c_p) ++(0,-3) -- ++(0,14);
    \draw[heavy] (c_u) ++(0,-6) -- ++(0,14);
    \draw[heavy, line width=2.5pt] (174.9,829.6) -- (184.3,829.6);

    \node[support] (c_l1) at (193.3,805.5) {95/*};
    \node[support] (c_l2) at (182.2,817.2) {88/0.98};
    \node[support] (c_l3) at (189.3,842.5) {98/*};
    \node[support] (c_l4) at (167.7,852.4) {90/0.99};
    \node[support] (c_l5) at (174.8,871) {99/*};
    \node[support] (c_l6) at (170,914.2) {87/*};
    \node[support] (c_l7) at (177.9,926.5) {-/0.98};
    \node[support] (c_l8) at (203.4,990.7) {98/*};
    \node[support] (c_l9) at (200.4,1003) {78/-};
    \node[support] (c_l10) at (201,1027.8) {98/*};
    \node[support] (c_l11) at (174.8,1040.1) {99/*};
    \node[support] (c_l12) at (173.7,1061.7) {75/*};
    \node[support] (c_l13) at (179,1071.9) {95/*};
    \node[support] (c_l14) at (174.8,1104.3) {91/*};
    \node[support] (c_l15) at (174,1132.1) {98/*};
    \node[support] (c_l16) at (148,1155) {74/-};
    \node[support] (c_l17) at (178,1167.3) {86/0.99};
    \node[support] (c_l18) at (203.6,1209.9) {95/*};
    \node[support] (c_l19) at (202.3,1222.2) {*/*};
    \node[support] (c_l20) at (204.6,1275.8) {89/*};
    \node[support] (c_l21) at (195.6,1322) {75/*};
    \node[support] (c_l22) at (180.4,1347.6) {79/*};
    \node[support] (c_l23) at (514.3,1404.1) {*/*};
    \node[support] (c_l24) at (112.5,1413.2) {-/*};
    \node[support] (c_l25) at (134.5,1457) {75/0.98};
    \node[support] (c_l26) at (119.4,1493.4) {98/*};
    \draw[branch] (c_l4.east) -- (c_v);
    \draw[branch] (c_l5.east) -- (c_x);
    \draw[branch] (c_l6.east) -- (c_w);
    \draw[branch] (c_l11.east) -- (c_aa);
    \draw[branch] (c_l14.east) -- (c_ab);
    \draw[branch] (c_l15.east) -- (c_s);

    \draw[branch] (32.3,1544.2) -- (68.1,1544.2);
    \node[scale_lab] (c_scale) at (49.3,1558.5) {0.1};

    % RPB2
    \node[tree_title] (r_title) at (760,812) {RPB2};
    \node[taxon] (r_deca) at (1057.1,800.3) {\textit{P. decaturense} CBS 117509\typ};
    \node[taxon] (r_panc) at (1050.1,817.9) {\textit{P. pancosmium} CBS 276.75\typ};
    \node[taxon] (r_ubiq) at (1049.3,835.2) {\textit{P. ubiquetum} CBS 126437\typ};
    \node[taxon] (r_cosm) at (1042.3,852.8) {\textit{P. cosmopolitanum} CBS 126995\typ};
    \node[taxon] (r_west) at (1043.1,870) {\textit{P. westlingii} CBS 231.28\typ};
    \node[taxon] (r_noth) at (1046.2,887.3) {\textit{P. nothofagi} CBS 130383\typ};
    \node[new_taxon] (r_acid) at (1053.5,904.4) {\textit{P. acidogenicum} CGMCC 3.25421\typ};
    \node[taxon] (r_oute) at (1039.7,922.2) {\textit{P. outeniquaense} CBS 147414\typ};
    \node[taxon] (r_godl) at (1043.1,939.2) {\textit{P. godlewskii} CBS 215.28\typ};
    \node[taxon] (r_waks) at (1041.8,956.5) {\textit{P. waksmanii} CBS 230.28\typ};
    \node[taxon] (r_chrz) at (1036.6,973.8) {\textit{P. chrzaszczii} CBS 217.28\typ};
    \node[taxon] (r_aura) at (1048,990.5) {\textit{P. aurantiacobrunneum} CBS 126228\typ};
    \node[taxon] (r_micz) at (1044.9,1008.7) {\textit{P. miczynskii} CBS 220.28\typ};
    \node[taxon] (r_neom) at (1045.7,1025.7) {\textit{P. neomiczynskii} CBS 126231\typ};
    \node[taxon] (r_sucr) at (1050.1,1043) {\textit{P. sucrivorum} DTO 183-E5\typ};
    \node[taxon] (r_cair) at (1052.7,1060.3) {\textit{P. cairnsense} CBS 124325\typ};
    \node[taxon] (r_queb) at (1050.9,1077.8) {\textit{P. quebecense} CBS 101623\typ};
    \node[taxon] (r_mang) at (1057.1,1094.6) {\textit{P. manginii} CBS 253.31\typ};
    \node[taxon] (r_vanc) at (1060,1112.1) {\textit{P. vancouverense} CBS 126323\typ};
    \node[taxon] (r_well) at (1058.7,1129.4) {\textit{P. wellingtonense} CBS 130375\typ};
    \node[taxon] (r_pasq) at (1062.6,1146.7) {\textit{P. pasqualense} CBS 126330\typ};
    \node[taxon] (r_atro) at (1046.7,1164.3) {\textit{P. atrofulvum} CBS 109.66\typ};
    \node[taxon] (r_raph) at (1053.5,1181.6) {\textit{P. raphiae} CBS 126234\typ};
    \node[taxon] (r_chri) at (1039.2,1198.3) {\textit{P. christenseniae} CBS 126236\typ};
    \node[taxon] (r_copt) at (1116.8,1216.7) {\textit{P. copticola} CBS 127355\typ};
    \node[taxon] (r_terr) at (1115.4,1233.6) {\textit{P. terrigenum} CBS 127354\typ};
    \node[taxon] (r_arge) at (1299.3,1250.6) {\textit{P. argentinense} CBS 130371\typ};
    \node[taxon] (r_eugl) at (1295.1,1268) {\textit{P. euglaucum} CBS 323.71\typ};
    \node[taxon] (r_anat) at (1288,1284.9) {\textit{P. anatolicum} CBS 479.66\typ};
    \node[taxon] (r_gall) at (1050.7,1302.6) {\textit{P. gallaicum} CBS 167.81\typ};
    \node[taxon] (r_suma) at (1056.8,1320.1) {\textit{P. sumatrense} CBS 281.36\typ};
    \node[taxon] (r_citr) at (1082.6,1337) {\textit{P. citrinum} CBS 139.45\typ};
    \node[taxon] (r_heth) at (1075.5,1354.2) {\textit{P. hetheringtonii} CBS 122392\typ};
    \node[taxon] (r_sizo) at (1084,1371.6) {\textit{P. sizovae} CBS 413.69\typ};
    \node[taxon] (r_stec) at (1109.8,1388.5) {\textit{P. steckii} CBS 260.55\typ};
    \node[taxon] (r_tpcd) at (1067.5,1406.2) {\textit{P. tropicoides} CBS 122410\typ};
    \node[taxon] (r_trop) at (1065.2,1423.7) {\textit{P. tropicum} CBS 112584\typ};
    \node[taxon] (r_gorl) at (1070.8,1440.6) {\textit{P. gorlenkoanum} CBS 408.69\typ};
    \node[taxon] (r_paxi) at (1068.5,1458) {\textit{P. paxilli} CBS 360.48\typ};
    \node[taxon] (r_shea) at (1074.1,1475.2) {\textit{P. shearii} CBS 290.48\typ};
    \node[taxon] (r_rose) at (1013.1,1492.6) {\textit{P. roseopurpureum} CBS 266.29\typ};
    \node[taxon] (r_sang) at (1011.3,1509.6) {\textit{P. sanguifluum} CBS 127032\typ};
    \node[taxon] (r_rest) at (946.5,1527.3) {\textit{P. restrictum} CBS 367.48\typ};

    \coordinate (r_root) at (782.3,1424.2);
    \coordinate (r_a) at (932.4,1424.2);
    \coordinate (r_b) at (944.2,1348.2);
    \coordinate (r_c) at (991.1,1500.5);
    \coordinate (r_d) at (952.2,1253.2);
    \coordinate (r_e) at (953.6,1441.9);
    \coordinate (r_f) at (1017.8,1418);
    \coordinate (r_g) at (964.3,1467.4);
    \coordinate (r_h) at (1038,1393.7);
    \coordinate (r_i) at (1061.4,1345.6);
    \coordinate (r_j) at (1042.7,1415);
    \coordinate (r_k) at (972,1192.2);
    \coordinate (r_l) at (963,1310.4);
    \coordinate (r_m) at (1012.4,1139.2);
    \coordinate (r_n) at (984,1248);
    \coordinate (r_o) at (1070.8,1225.3);
    \coordinate (r_p) at (1267.8,1271.4);
    \coordinate (r_q) at (1274.9,1259.2);
    \coordinate (r_s) at (1015.5,1060);
    \coordinate (r_t) at (1018.1,1146);
    \coordinate (r_u) at (1018.1,992.8);
    \coordinate (r_v) at (1027.5,1040.2);
    \coordinate (r_w) at (1022.8,903);
    \coordinate (r_x) at (1020.7,945);
    \coordinate (r_y) at (1028,822.6);
    \coordinate (r_z) at (1029.3,870);
    \coordinate (r_aa) at (1031.9,1015);
    \coordinate (r_ab) at (1037.9,1066.7);
    \coordinate (r_ac) at (1022.8,1133.6);
    \coordinate (r_ad) at (1030,1120.8);

    \draw[branch] (r_root) edge[to_inner] (r_a) edge[to_tip] (r_rest);
    \draw[branch] (r_a) edge[to_inner] (r_b) edge[to_inner] (r_c);
    \draw[branch] (r_c) edge[to_tip] (r_rose) edge[to_tip] (r_sang);
    \draw[branch] (r_b) edge[to_inner] (r_d) edge[to_inner] (r_e);
    \draw[branch] (r_e) edge[to_inner] (r_f) edge[to_inner] (r_g);
    \draw[branch] (r_g) edge[to_tip] (r_paxi) edge[to_tip] (r_shea);
    \draw[branch] (r_f) edge[to_inner] (r_h) edge[to_tip] (r_gorl);
    \draw[branch] (r_h) edge[to_tip] (r_sizo) edge[to_tip] (r_stec) edge[to_inner] (r_j);
    \draw[heavy] (r_h) edge[to_inner] (r_i);
    \draw[branch] (r_i) edge[to_tip] (r_citr) edge[to_tip] (r_heth);
    \draw[branch] (r_j) edge[to_tip] (r_tpcd) edge[to_tip] (r_trop);
    \draw[branch] (r_d) edge[to_inner] (r_k) edge[to_inner] (r_l);
    \draw[branch] (r_l) edge[to_tip] (r_gall) edge[to_tip] (r_suma);
    \draw[branch] (r_k) edge[to_inner] (r_m) edge[to_inner] (r_n);
    \draw[branch] (r_n) edge[to_inner] (r_o) edge[to_inner] (r_p);
    \draw[branch] (r_o) edge[to_tip] (r_copt) edge[to_tip] (r_terr);
    \draw[branch] (r_p) edge[to_inner] (r_q) edge[to_tip] (r_anat);
    \draw[branch] (r_q) edge[to_tip] (r_arge) edge[to_tip] (r_eugl);
    \draw[branch] (r_m) edge[to_tip] (r_mang) edge[to_inner] (r_t) edge[to_tip] (r_raph) edge[to_tip] (r_chri);
    \draw[heavy] (r_m) edge[to_inner] (r_s);
    \draw[heavy] (r_s) edge[to_inner] (r_u);
    \draw[branch] (r_s) edge[to_inner] (r_v);
    \draw[branch] (r_u) edge[to_inner] (r_w) edge[to_tip] (r_acid) edge[to_inner] (r_x);
    \draw[branch] (r_w) edge[to_inner] (r_y) edge[to_inner] (r_z);
    \draw[branch] (r_y) edge[to_tip] (r_deca) edge[to_tip] (r_panc) edge[to_tip] (r_ubiq);
    \draw[branch] (r_z) edge[to_tip] (r_cosm) edge[to_tip] (r_west) edge[to_tip] (r_noth);
    \draw[branch] (r_x) edge[to_tip] (r_oute) edge[to_tip] (r_godl) edge[to_tip] (r_waks) edge[to_tip] (r_chrz);
    \draw[branch] (r_v) edge[to_inner] (r_aa) edge[to_inner] (r_ab);
    \draw[branch] (r_aa) edge[to_tip] (r_aura) edge[to_tip] (r_micz) edge[to_tip] (r_neom) edge[to_tip] (r_sucr);
    \draw[branch] (r_ab) edge[to_tip] (r_cair) edge[to_tip] (r_queb);
    \draw[branch] (r_t) edge[to_inner] (r_ac) edge[to_tip] (r_atro);
    \draw[branch] (r_ac) edge[to_inner] (r_ad) edge[to_tip] (r_pasq);
    \draw[branch] (r_ad) edge[to_tip] (r_vanc) edge[to_tip] (r_well);
    \draw[heavy] (r_a |- r_c) -- (r_c);
    \draw[heavy] (r_e |- r_f) -- (r_f);
    \draw[heavy] (r_n |- r_o) -- (r_o);
    \draw[heavy] (r_n |- r_p) -- (r_p);
    \draw[heavy] (r_s |- r_v) -- (r_v);
    \draw[heavy] (r_v |- r_ab) -- (r_ab);

    \node[support] (r_l1) at (1009.8,843.6) {-/0.98};
    \node[support] (r_l2) at (1002,863.9) {97/*};
    \node[support] (r_l3) at (994.8,920.2) {74/-};
    \node[support] (r_l4) at (992.8,1003.1) {93/-};
    \node[support] (r_l5) at (998.1,1029.9) {76/-};
    \node[support] (r_l6) at (998.1,1049.9) {97/*};
    \node[support] (r_l7) at (1031.2,1074.2) {*/*};
    \node[support] (r_l8) at (1000.4,1114.6) {84/*};
    \node[support] (r_l9) at (1001.3,1133.6) {87/*};
    \node[support] (r_l10) at (1062.6,1219.3) {*/*};
    \node[support] (r_l11) at (1264.3,1254) {94/-};
    \node[support] (r_l12) at (1259.6,1263.6) {*/*};
    \node[support] (r_l13) at (1050.2,1339.1) {99/*};
    \node[support] (r_l14) at (1027.8,1388.5) {81/*};
    \node[support] (r_l15) at (1011,1410.1) {*/*};
    \node[support] (r_l16) at (981,1493.4) {99/*};
    \draw[branch] (r_l2.east) -- (r_z);
    \draw[branch] (r_l3.east) -- (r_x);
    \draw[branch] (r_l4.east) -- (r_aa);
    \draw[branch] (r_l5.east) -- (r_v);
    \draw[branch] (r_l6.east) -- (r_v);
    \draw[branch] (r_l8.east) -- (r_ad);

    \draw[branch] (783.3,1544.7) -- (834.9,1544.7);
    \node[scale_lab] (r_scale) at (808.8,1558.5) {0.05};
\end{tikzpicture}
\end{document}
